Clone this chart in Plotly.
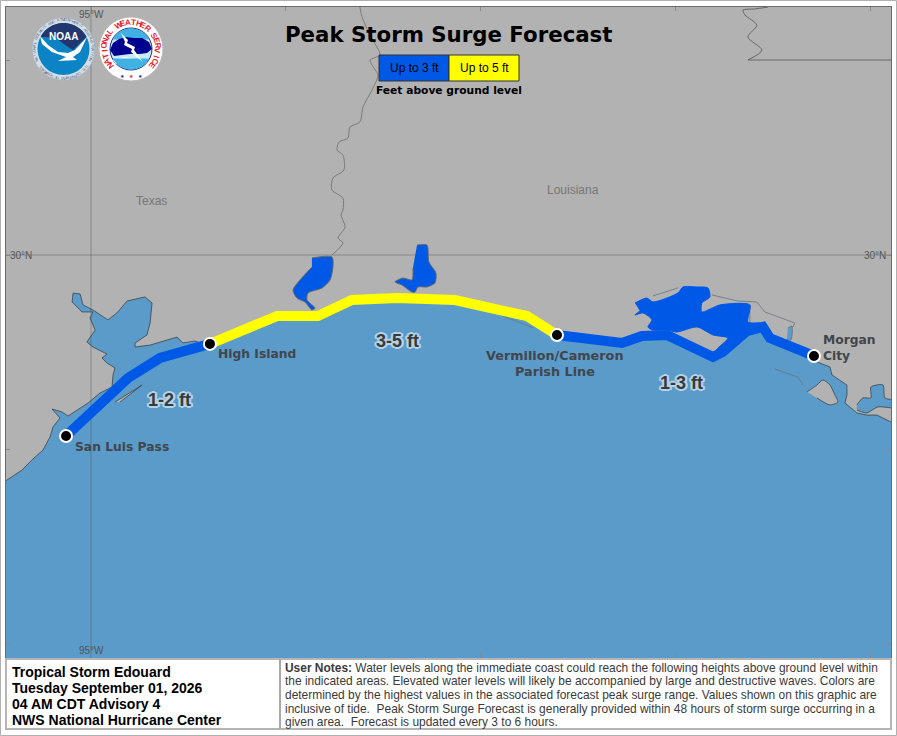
# peak storm surge forecast map, all map features in lon / lat

import math
import plotly.graph_objects as go

W, H = 897, 736
LAND = '#b2b2b2'
WATER = '#5b9bc9'
SURGE_BLUE = '#0059e6'
SURGE_YELLOW = '#ffff00'

# --- surge segments ---
west_lon = [-95.128, -94.990, -94.810, -94.646, -94.390]
west_lat = [29.072, 29.195, 29.369, 29.472, 29.544]
middle_lon = [-94.390, -94.046, -93.836, -93.662, -93.431, -93.133, -92.764, -92.610]
middle_lat = [29.544, 29.687, 29.687, 29.769, 29.779, 29.769, 29.687, 29.590]
east_lon = [-92.610, -92.277, -92.174, -92.046, -91.810, -91.759, -91.636, -91.554, -91.518, -91.292]
east_lat = [29.590, 29.549, 29.585, 29.590, 29.477, 29.503, 29.610, 29.631, 29.574, 29.482]

# --- breakpoints ---
point_names = ['San Luis Pass', 'High Island', 'Vermilion/Cameron', 'Morgan City']
point_lon = [-95.128, -94.390, -92.610, -91.292]
point_lat = [29.072, 29.544, 29.590, 29.482]

# --- coast west of High Island, Galveston Bay included ---
coast_w_lon = [-95.5, -95.354, -95.303, -95.246, -95.210, -95.195, -95.159, -95.200, -95.149, -95.118,
               -95.056, -95.015, -94.954, -94.892, -94.887, -94.877, -94.918, -94.944, -94.918, -94.990,
               -95.021, -94.979, -95.005, -94.990, -95.046, -95.097, -95.092, -95.056, -95.041, -94.990,
               -94.913, -94.867, -94.815, -94.723, -94.687, -94.697, -94.713, -94.774, -94.774, -94.697,
               -94.559, -94.528, -94.467, -94.441]
coast_w_lat = [28.80, 28.897, 28.949, 29.000, 29.067, 29.118, 29.164, 29.210, 29.195, 29.174,
               29.215, 29.241, 29.292, 29.323, 29.385, 29.421, 29.446, 29.472, 29.492, 29.528,
               29.554, 29.615, 29.677, 29.708, 29.708, 29.759, 29.805, 29.800, 29.744, 29.718,
               29.667, 29.703, 29.764, 29.785, 29.754, 29.651, 29.590, 29.549, 29.528, 29.538,
               29.579, 29.549, 29.559, 29.549]

# --- coast east of Morgan City ---
coast_e_lon = [-91.277, -91.210, -91.200, -91.123, -91.123, -91.133, -91.072, -91.021, -90.969, -90.85]
coast_e_lat = [29.451, 29.426, 29.385, 29.333, 29.282, 29.241, 29.190, 29.179, 29.179, 29.12]

# --- bays and lakes ---
vermilion_lon = [-92.210, -92.149, -92.118, -91.990, -91.964, -91.892, -91.836, -91.826, -91.867, -91.867,
                 -91.774, -91.621, -91.631, -91.554, -91.631, -91.738, -91.790, -91.733, -91.810, -91.892,
                 -91.995, -92.046, -92.118, -92.144, -92.123, -92.169, -92.210, -92.185]
vermilion_lat = [29.754, 29.779, 29.759, 29.805, 29.836, 29.836, 29.831, 29.785, 29.754, 29.708,
                 29.744, 29.744, 29.656, 29.651, 29.615, 29.497, 29.513, 29.574, 29.590, 29.631,
                 29.605, 29.615, 29.615, 29.631, 29.667, 29.703, 29.692, 29.713]
sabine_lon = [-93.867, -93.764, -93.759, -93.774, -93.815, -93.887, -93.892, -93.851, -93.867, -93.903,
              -93.944, -93.964, -93.928, -93.867]
sabine_lat = [29.985, 29.990, 29.938, 29.872, 29.831, 29.805, 29.769, 29.728, 29.718, 29.759,
              29.779, 29.821, 29.872, 29.938]
calcasieu_lon = [-93.328, -93.277, -93.267, -93.231, -93.236, -93.277, -93.323, -93.338, -93.354, -93.405,
                 -93.441, -93.400, -93.354, -93.349]
calcasieu_lat = [30.051, 30.051, 29.964, 29.908, 29.856, 29.836, 29.836, 29.810, 29.810, 29.846,
                 29.862, 29.882, 29.872, 29.933]
terrebonne_lon = [-91.072, -91.041, -91.000, -91.000, -90.938, -90.928, -90.85, -90.85, -90.964, -91.021, -91.072]
terrebonne_lat = [29.231, 29.267, 29.267, 29.323, 29.333, 29.267, 29.251, 29.215, 29.221, 29.190, 29.205]
wax_lake_lon = [-91.426, -91.405, -91.410, -91.431]
wax_lake_lat = [29.626, 29.636, 29.564, 29.564]

# --- islands ---
au_fer_lon = [-91.328, -91.277, -91.246, -91.210, -91.185, -91.169, -91.210, -91.277]
au_fer_lat = [29.297, 29.333, 29.359, 29.333, 29.282, 29.246, 29.231, 29.267]
galveston_lon = [-94.877, -94.738, -94.785, -94.851]
galveston_lat = [29.246, 29.333, 29.297, 29.246]

# --- state borders ---
sabine_river_lon = [-93.621, -93.610, -93.564, -93.518, -93.569, -93.549, -93.528, -93.559, -93.605, -93.621,
                    -93.672, -93.682, -93.728, -93.738, -93.708, -93.703, -93.759, -93.764, -93.708, -93.708,
                    -93.718, -93.697, -93.733, -93.708, -93.764]
sabine_river_lat = [31.272, 31.221, 31.118, 31.026, 31.000, 30.959, 30.923, 30.846, 30.759, 30.682,
                    30.656, 30.600, 30.579, 30.538, 30.513, 30.436, 30.395, 30.333, 30.292, 30.231,
                    30.205, 30.144, 30.087, 30.062, 30.000]
ms_border_lon = [-91.528, -91.595, -91.656, -91.646, -91.585, -91.631, -91.559, -91.631]
ms_border_lat = [31.272, 31.262, 31.256, 31.231, 31.179, 31.118, 31.051, 31.000]
lat31_border_lon = [-91.631, -90.85]
lat31_border_lat = [31.000, 31.000]

# --- thin marsh / shoal lines, None splits the pieces ---
marsh_lon = [-92.118, -91.990, None, -91.815, -91.682, -91.585, -91.544, -91.390, -91.400, None,
             -91.621, -91.621, None, -91.492, -91.374, -91.349, None, -92.887, -92.733]
marsh_lat = [29.790, 29.831, None, 29.795, 29.764, 29.759, 29.708, 29.651, 29.631, None,
             29.744, 29.656, None, 29.415, 29.374, 29.333, None, 29.687, 29.626]

# --- text ---
title = 'Peak Storm Surge Forecast'
legend_labels = ['Up to 3 ft', 'Up to 5 ft']
legend_note = 'Feet above ground level'
range_labels = ['1-2 ft', '3-5 ft', '1-3 ft']
range_lon = [-94.595, -93.426, -91.969]
range_lat = [29.256, 29.559, 29.344]
state_labels = ['Texas', 'Louisiana']
state_lon = [-94.692, -92.528]
state_lat = [30.277, 30.333]
storm_lines = ['Tropical Storm Edouard', 'Tuesday September 01, 2026',
               '04 AM CDT Advisory 4', 'NWS National Hurricane Center']
notes_lines = ['<b>User Notes:</b> Water levels along the immediate coast could reach the following heights above ground level within',
               'the indicated areas. Elevated water levels will likely be accompanied by large and destructive waves. Colors are',
               'determined by the highest values in the associated forecast peak surge range. Values shown on this graphic are',
               'inclusive of tide.  Peak Storm Surge Forecast is generally provided within 48 hours of storm surge occurring in a',
               'given area.  Forecast is updated every 3 to 6 hours.']


# page furniture is placed in screen pixels, converted to paper fractions
def px(x):
    return x / W


def py(y):
    return 1 - y / H


def polygon(points, fill, line='rgba(0,0,0,0)', width=0):
    d = 'M' + ' L'.join(f'{px(x):.5f},{py(y):.5f}' for x, y in points) + ' Z'
    return dict(type='path', xref='paper', yref='paper', path=d, fillcolor=fill,
                line=dict(color=line, width=width), layer='above')


def rect(x0, y0, x1, y1, fill, line='rgba(0,0,0,0)', width=0):
    return dict(type='rect', xref='paper', yref='paper', x0=px(x0), x1=px(x1), y0=py(y0), y1=py(y1),
                fillcolor=fill, line=dict(color=line, width=width), layer='above')


def circle(cx, cy, r, fill, line='rgba(0,0,0,0)', width=0):
    return dict(type='circle', xref='paper', yref='paper', x0=px(cx - r), x1=px(cx + r),
                y0=py(cy - r), y1=py(cy + r), fillcolor=fill, line=dict(color=line, width=width), layer='above')


def arc(cx, cy, r, a0, a1, n=24):
    # angles in degrees, clockwise from the top
    out = []
    for i in range(n + 1):
        a = math.radians(a0 + (a1 - a0) * i / n)
        out.append((cx + r * math.sin(a), cy - r * math.cos(a)))
    return out


def label(x, y, text, size, color='#000000', family='Liberation Sans', anchor='center', angle=0):
    font = dict(family=family, size=size, color=color)
    return dict(xref='paper', yref='paper', x=px(x), y=py(y), text=text, showarrow=False, font=font,
                xanchor=anchor, yanchor='middle', textangle=angle, align='left', borderpad=0)


def ring_text(cx, cy, r, text, a0, a1, size, color, family='Liberation Sans', bold=False):
    out = []
    n = len(text)
    for i, ch in enumerate(text):
        if ch == ' ':
            continue
        a = a0 + (a1 - a0) * i / (n - 1)
        x = cx + r * math.sin(math.radians(a))
        y = cy - r * math.cos(math.radians(a))
        out.append(label(x, y, f'<b>{ch}</b>' if bold else ch, size, color, family, angle=a))
    return out


fig = go.Figure()


def add_poly(lon, lat, fill, line_color='rgba(0,0,0,0)', line_width=0, smooth=False):
    line = dict(color=line_color, width=line_width)
    if smooth:
        line.update(shape='spline', smoothing=0.7)
    fig.add_trace(go.Scatter(x=lon, y=lat, mode='lines', fill='toself', fillcolor=fill,
                             line=line, hoverinfo='skip'))


def add_line(lon, lat, color, width, smooth=False):
    line = dict(color=color, width=width)
    if smooth:
        line.update(shape='spline', smoothing=0.8)
    fig.add_trace(go.Scatter(x=lon, y=lat, mode='lines', line=line, hoverinfo='skip'))


# gulf is the coast plus the surge lines, which run along the shore
gulf_lon = [-95.5] + coast_w_lon + west_lon[-1:] + middle_lon[1:] + east_lon[1:] + coast_e_lon + [-90.85]
gulf_lat = [27.9] + coast_w_lat + west_lat[-1:] + middle_lat[1:] + east_lat[1:] + coast_e_lat + [27.9]
add_poly(gulf_lon, gulf_lat, WATER, '#39444d', 0.8)
add_poly(terrebonne_lon, terrebonne_lat, WATER, '#39444d', 0.8, smooth=True)
add_poly(wax_lake_lon, wax_lake_lat, WATER, '#555555', 0.5, smooth=True)
add_poly(au_fer_lon, au_fer_lat, LAND, '#39444d', 0.8, smooth=True)
add_poly(galveston_lon, galveston_lat, LAND, '#39444d', 0.8)

# graticule
add_line([-95, -95], [27.9, 31.3], 'rgba(70,70,70,0.4)', 1)
add_line([-95.5, -90.85], [30, 30], 'rgba(70,70,70,0.4)', 1)

add_line(sabine_river_lon, sabine_river_lat, '#757575', 0.9, smooth=True)
add_line(ms_border_lon, ms_border_lat, '#666666', 1, smooth=True)
add_line(lat31_border_lon, lat31_border_lat, '#6a6a6a', 1)
add_line(marsh_lon, marsh_lat, '#6b747c', 0.8)

add_poly(sabine_lon, sabine_lat, SURGE_BLUE, '#6a6a6a', 1, smooth=True)
add_poly(calcasieu_lon, calcasieu_lat, SURGE_BLUE, '#6a6a6a', 1, smooth=True)
add_poly(vermilion_lon, vermilion_lat, SURGE_BLUE, SURGE_BLUE, 1, smooth=True)

add_line(west_lon, west_lat, SURGE_BLUE, 10)
add_line(east_lon, east_lat, SURGE_BLUE, 10)
add_line(middle_lon, middle_lat, SURGE_YELLOW, 10)

fig.add_trace(go.Scatter(x=point_lon, y=point_lat, mode='markers', hoverinfo='skip',
                         marker=dict(size=12, color='#000000', line=dict(color='#ffffff', width=2))))

shapes = []
annotations = []

# footer
shapes.append(rect(6, 659, 891, 729, '#ffffff', '#b5b5b5', 2))
shapes.append(dict(type='line', xref='paper', yref='paper', x0=px(280), x1=px(280), y0=py(659), y1=py(729),
                   line=dict(color='#a8a8a8', width=2), layer='above'))
shapes.append(rect(0.5, 0.5, 896.5, 735.5, 'rgba(0,0,0,0)', '#b0b0b0', 1))
for i, t in enumerate(storm_lines):
    annotations.append(label(10.5, 672 + i * 16, f'<b>{t}</b>', 14, anchor='left'))
for i, t in enumerate(notes_lines):
    annotations.append(label(284, 667.5 + i * 13.7, t, 11.95, '#3a3a3a', anchor='left'))

# title and legend
annotations.append(label(448.5, 34, f'<b>{title}</b>', 21.3, family='DejaVu Sans'))
shapes.append(rect(379, 55, 449, 81, SURGE_BLUE, '#333333', 1))
shapes.append(rect(449, 55, 519, 81, SURGE_YELLOW, '#333333', 1))
annotations.append(label(414, 68, legend_labels[0], 12))
annotations.append(label(484, 68, legend_labels[1], 12))
annotations.append(label(448.5, 90, f'<b>{legend_note}</b>', 10.7, family='DejaVu Sans'))

# NOAA logo
shapes.append(circle(63.5, 49, 31.5, '#d5dde6', '#aab4c0', 1))
shapes.append(circle(63.5, 49, 26, '#0b83c5'))
navy = arc(63.5, 49, 26, -62, 62) + [(73, 50), (65, 45), (56, 38)]
shapes.append(polygon(navy, '#22376f'))
gull = [(40, 36), (48, 45), (58, 52), (68, 53), (75, 50), (87, 37), (80, 52), (73, 57),
        (77, 60), (58, 61), (66, 57), (52, 52), (42, 44)]
shapes.append(polygon(gull, '#ffffff'))
annotations.append(label(63.5, 36, '<b>NOAA</b>', 10, '#ffffff'))
annotations += ring_text(63.5, 49, 29, 'NATIONAL OCEANIC AND ATMOSPHERIC ADMINISTRATION', -112, 112, 3.6, '#4a5a72')
annotations += ring_text(63.5, 49, 29, 'U.S. DEPARTMENT OF COMMERCE', 128, 232, 3.6, '#4a5a72')

# NWS logo
shapes.append(circle(131, 49, 32, '#ffffff', '#b8b8b8', 1))
shapes.append(circle(131, 49, 21, '#c9e9f5', '#1a2e8a', 1))
shapes.append(polygon(arc(131, 49, 20.5, -62, 62), '#3fb1e3'))
blob = [(110, 50), (113, 43), (119, 39), (126, 37), (134, 38), (142, 38), (149, 42), (152, 49),
        (147, 53), (140, 54), (130, 54), (122, 55), (114, 56)]
shapes.append(polygon(blob, '#00008f'))
shapes.append(polygon([(113, 60), (125, 57), (137, 60), (149, 58), (146, 63), (135, 65), (123, 63), (116, 64)], '#ffffff'))
shapes.append(polygon(arc(131, 49, 20.5, 118, 242), '#3fb1e3'))
bolt = [(121, 33), (128, 40), (127, 43), (135, 47), (134, 50), (143, 62), (131, 52), (132, 49), (124, 45), (125, 42)]
shapes.append(polygon(bolt, '#ffffff'))
annotations += ring_text(131, 49, 26.5, 'NATIONAL WEATHER SERVICE', -128, 128, 8, '#e8202a', bold=True)
annotations += [label(x, 76, '★', 5, c) for x, c in [(122, '#1a2e8a'), (131, '#e8202a'), (140, '#1a2e8a')]]

# map annotations in map coordinates
halo = ', '.join(f'{dx}px {dy}px 0px #b4d3e8' for dx, dy in
                 [(-2, 0), (2, 0), (0, -2), (0, 2), (-1, -1), (1, -1), (-1, 1), (1, 1), (-2, -1), (2, 1), (-2, 1), (2, -1)])
for t, lon, lat in zip(range_labels, range_lon, range_lat):
    annotations.append(dict(x=lon, y=lat, text=f'<b>{t}</b>', showarrow=False,
                            font=dict(family='Liberation Sans', size=18, color='#3a3a3a', shadow=halo)))
for t, lon, lat in zip(state_labels, state_lon, state_lat):
    annotations.append(dict(x=lon, y=lat, text=t, showarrow=False,
                            font=dict(family='Liberation Sans', size=12, color='#777777')))

CITY = 12.3
city_font = dict(family='DejaVu Sans', size=CITY, color='#41464c')
annotations.append(dict(x=point_lon[0], y=point_lat[0], text=f'<b>{point_names[0]}</b>', showarrow=False,
                        xanchor='left', xshift=7, yshift=-11, font=city_font))
annotations.append(dict(x=point_lon[1], y=point_lat[1], text=f'<b>{point_names[1]}</b>', showarrow=False,
                        xanchor='left', xshift=6, yshift=-10, font=city_font))
annotations.append(label(554.5, 355, '<b>Vermilion/Cameron</b>', 12.8, '#41464c', 'DejaVu Sans'))
annotations.append(label(555, 371, '<b>Parish Line</b>', 12.8, '#41464c', 'DejaVu Sans'))
annotations.append(label(822, 340, '<b>Morgan</b>', CITY, '#41464c', 'DejaVu Sans', anchor='left'))
annotations.append(label(822, 356, '<b>City</b>', CITY, '#41464c', 'DejaVu Sans', anchor='left'))

# graticule labels
for t, lon, lat in [('95°W', -95, 31.235), ('95°W', -95, 27.97), ('30°N', -95.36, 30), ('30°N', -90.98, 30)]:
    annotations.append(dict(x=lon, y=lat, text=t, showarrow=False,
                            font=dict(family='Liberation Sans', size=10, color='#555555')))

fig.update_layout(
    width=W, height=H, margin=dict(l=0, r=0, t=0, b=0), showlegend=False,
    paper_bgcolor='#ffffff', plot_bgcolor=LAND, shapes=shapes, annotations=annotations,
    xaxis=dict(domain=[6 / W, 891 / W], range=[-95.436, -90.897], showgrid=False, zeroline=False,
               tickvals=[-95, -94, -93, -92, -91], showticklabels=False, ticks='inside', ticklen=4,
               tickcolor='#888888', showline=True, linecolor='#6a6a6a', linewidth=1, mirror='ticks'),
    yaxis=dict(domain=[1 - 658 / H, 1 - 7 / H], range=[27.933, 31.272], showgrid=False, zeroline=False,
               tickvals=[28, 29, 30, 31], showticklabels=False, ticks='inside', ticklen=4,
               tickcolor='#888888', showline=True, linecolor='#6a6a6a', linewidth=1, mirror='ticks'),
)

fig.write_html("out.html", config=dict(displayModeBar=False),
               post_script="document.body.style.margin='0';")
